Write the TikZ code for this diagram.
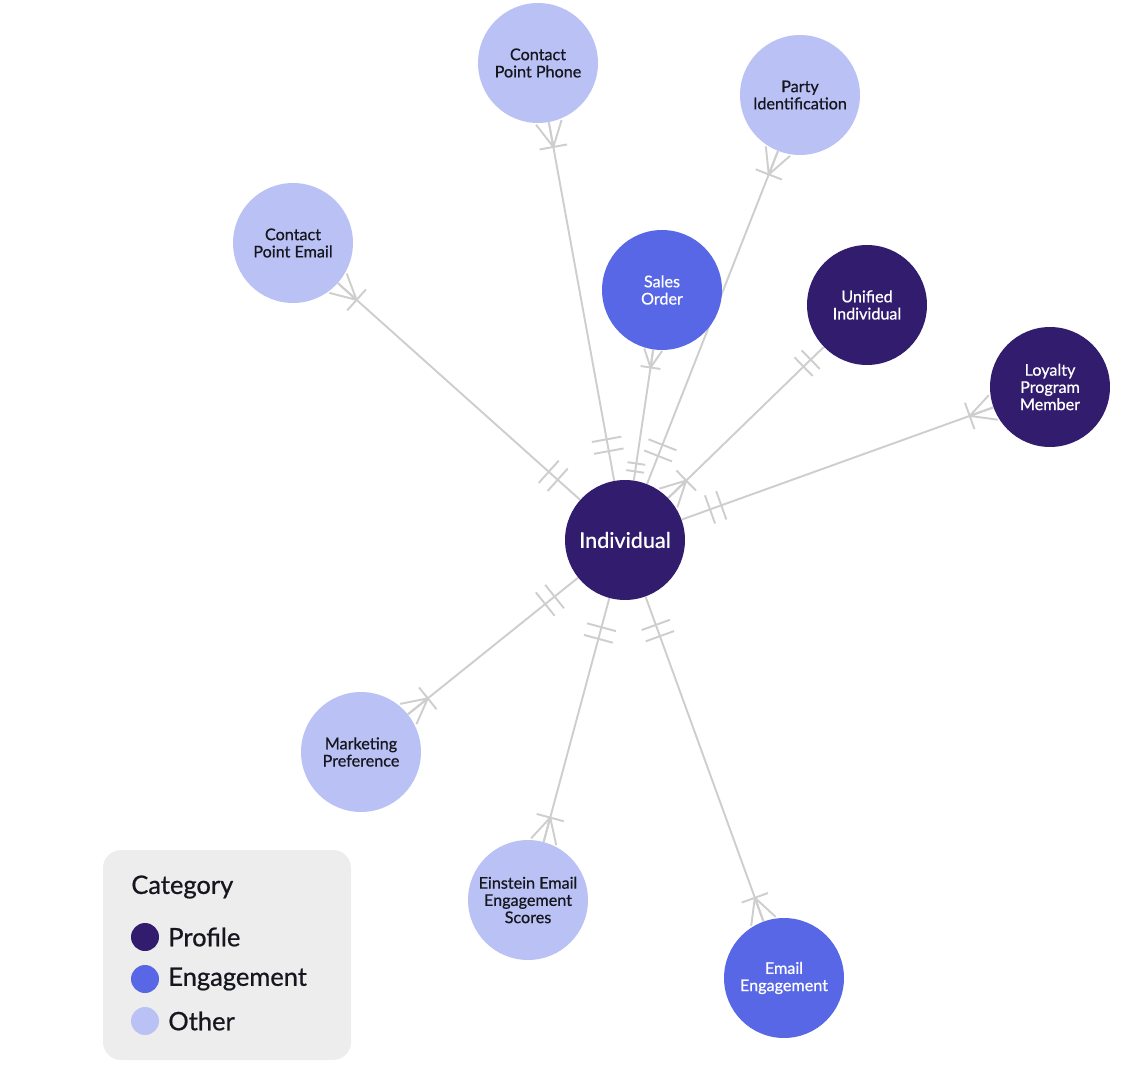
\documentclass[tikz,border=0pt]{standalone}
\usepackage{fontspec}
\setmainfont{Lato}[FakeBold=0.7]
\usetikzlibrary{decorations.markings,backgrounds}
\definecolor{ProfileDark}{RGB}{50,28,110}
\definecolor{EngageMid}{RGB}{88,103,230}
\definecolor{OtherLight}{RGB}{186,194,245}
\definecolor{LinkGray}{RGB}{206,206,206}
\definecolor{LegendBg}{RGB}{237,237,237}
\definecolor{InkDark}{RGB}{22,22,30}

\begin{document}
\begin{tikzpicture}[x=0.02cm,y=-0.02cm,
    ent/.style={circle,minimum size=2.4cm,inner sep=0pt,align=center,
                font=\fontsize{9.2}{9.8}\selectfont},
    profile/.style={ent,fill=ProfileDark,text=white},
    engage/.style={ent,fill=EngageMid,text=white},
    other/.style={ent,fill=OtherLight,text=InkDark},
    link/.style={draw=LinkGray,line width=1.1pt},
    % one individual -> many records
    tomany/.style={link,postaction={decorate,decoration={markings,
        mark=at position 0.6cm with {\draw[link] (0,-15) -- (0,15);},
        mark=at position 0.84cm with {\draw[link] (0,-15) -- (0,15);},
        mark=at position -0.5cm with {\draw[link] (0,-14) -- (0,14)
            (0,0) -- (25,13) (0,0) -- (25,0) (0,0) -- (25,-13);}}}},
    tomanyshort/.style={link,postaction={decorate,decoration={markings,
        mark=at position 0.18cm with {\draw[link] (0,-9) -- (0,9);},
        mark=at position 0.34cm with {\draw[link] (0,-9) -- (0,9);},
        mark=at position -0.36cm with {\draw[link] (0,-10) -- (0,10)
            (0,0) -- (18,9) (0,0) -- (18,0) (0,0) -- (18,-9);}}}},
    % many individuals -> one record
    fromany/.style={link,postaction={decorate,decoration={markings,
        mark=at position 0.5cm with {\draw[link] (0,-14) -- (0,14)
            (0,0) -- (-25,13) (0,0) -- (-25,0) (0,0) -- (-25,-13);},
        mark=at position -0.56cm with {\draw[link] (0,-13) -- (0,13);},
        mark=at position -0.36cm with {\draw[link] (0,-13) -- (0,13);}}}},
    legdot/.style={circle,minimum size=0.56cm,inner sep=0pt},
    legtext/.style={anchor=west,inner sep=0pt,text=InkDark,
                    font=\fontsize{14.5}{16}\selectfont}
  ]
  \useasboundingbox (0,0) rectangle (1130,1068);

  % entities
  \node[profile,font=\fontsize{12.3}{13}\selectfont] (ind) at (625,540) {Individual};
  \node[other] (phone) at (538,63) {Contact\\Point Phone};
  \node[other] (party) at (800,95) {Party\\Identification};
  \node[other] (email) at (293,243) {Contact\\Point Email};
  \node[engage] (sales) at (662,290) {Sales\\Order};
  \node[profile] (unified) at (867,305) {Unified\\Individual};
  \node[profile] (loyal) at (1050,387) {Loyalty\\Program\\Member};
  \node[other] (mktg) at (361,752) {Marketing\\Preference};
  \node[other] (score) at (528,900) {Einstein Email\\Engagement\\Scores};
  \node[engage] (engage) at (784,978) {Email\\Engagement};

  % relations
  \begin{scope}[on background layer]
    \draw[tomany] (ind) -- (phone);
    \draw[tomany] (ind) -- (party);
    \draw[tomany] (ind) -- (email);
    \draw[tomanyshort] (ind) -- (sales);
    \draw[fromany] (ind) -- (unified);
    \draw[tomany] (ind) -- (loyal);
    \draw[tomany] (ind) -- (mktg);
    \draw[tomany] (ind) -- (score);
    \draw[tomany] (ind) -- (engage);
  \end{scope}

  % legend
  \fill[LegendBg,rounded corners=0.36cm] (103,850) rectangle (351,1060);
  \node[legtext] (cat) at (131,887) {Category};
  \node[legdot,fill=ProfileDark] (dotp) at (145,937) {};
  \node[legdot,fill=EngageMid] (dote) at (145,979) {};
  \node[legdot,fill=OtherLight] (doto) at (145,1021) {};
  \node[legtext] (labp) at (168,937) {Profile};
  \node[legtext] (labe) at (168,979) {Engagement};
  \node[legtext] (labo) at (168,1021) {Other};
\end{tikzpicture}
\end{document}
